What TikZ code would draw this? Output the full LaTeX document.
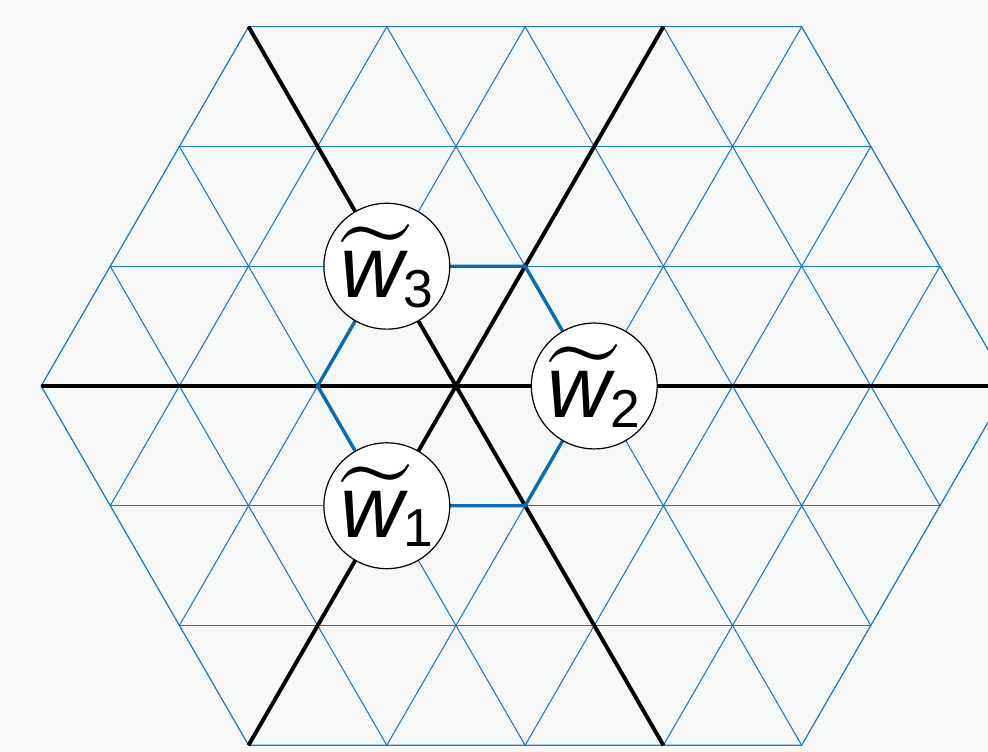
\documentclass[tikz,border=0pt]{standalone}
\usepackage{amsmath}
\usepackage{unicode-math}
\setmathfont{Latin Modern Math}
\setsansfont{Liberation Sans}
\definecolor{paper}{RGB}{246,248,248}
\definecolor{latblue}{RGB}{30,120,190}
\definecolor{ringblue}{RGB}{10,108,175}

\newcommand{\wsite}[1]{$\widetilde{\text{\sffamily\itshape w}\kern1.5pt}$\kern-1.5pt\raisebox{-2pt}{\fontsize{11}{13}\selectfont\sffamily #1}}

\tikzset{
  lattice/.style={draw=latblue, line width=0.22pt},
  axis/.style={draw=black, line width=0.8pt},
  ring/.style={draw=ringblue, line width=0.7pt},
  site/.style={circle, draw, fill=white, line width=0.25pt, minimum size=0.91cm, inner sep=0pt},
  sitelabel/.style={font=\fontsize{18}{22}\selectfont, inner sep=0pt}
}

\begin{document}
\begin{tikzpicture}

\useasboundingbox (-3.297,-2.646) rectangle (3.847,2.791);
\fill[paper] (-3.297,-2.646) rectangle (3.847,2.791);

% outline of the lattice
\coordinate (left) at (-3,0);
\coordinate (topl) at (-1.5,2.598);
\coordinate (topr) at (2.5,2.598);
\coordinate (right) at (4,0);
\coordinate (botr) at (2.5,-2.598);
\coordinate (botl) at (-1.5,-2.598);

\begin{scope}
\clip (left) -- (topl) -- (topr) -- (right) -- (botr) -- (botl) -- cycle;
\foreach \j in {-3,...,3}
  \draw[lattice] (-4,\j*0.866) -- (5,\j*0.866);
\foreach \k in {-6,...,7} {
  \draw[lattice] ({\k-2},-3.464) -- ({\k+2},3.464);
  \draw[lattice] ({\k+2},-3.464) -- ({\k-2},3.464);
}
\end{scope}
\draw[lattice] (left) -- (topl) -- (topr) -- (right) -- (botr) -- (botl) -- cycle;

% the three lines through the centre
\coordinate (o) at (0,0);
\coordinate (a1) at (1.5,2.598);
\coordinate (a2) at (-1.5,-2.598);
\coordinate (b1) at (1.5,-2.598);
\draw[axis] (left) -- (right);
\draw[axis] (a2) -- (a1);
\draw[axis] (topl) -- (b1);

% hexagon of the sites
\coordinate (h1) at (-1,0);
\coordinate (h2) at (-0.5,0.866);
\coordinate (h3) at (0.5,0.866);
\coordinate (h4) at (1,0);
\coordinate (h5) at (0.5,-0.866);
\coordinate (h6) at (-0.5,-0.866);
\draw[ring] (h1) -- (h2) -- (h3) -- (h4) -- (h5) -- (h6) -- cycle;

\node (w3) [site, label={[sitelabel]center:\wsite{3}}] at (h2) {};
\node (w2) [site, label={[sitelabel]center:\wsite{2}}] at (h4) {};
\node (w1) [site, label={[sitelabel]center:\wsite{1}}] at (h6) {};

\end{tikzpicture}
\end{document}
